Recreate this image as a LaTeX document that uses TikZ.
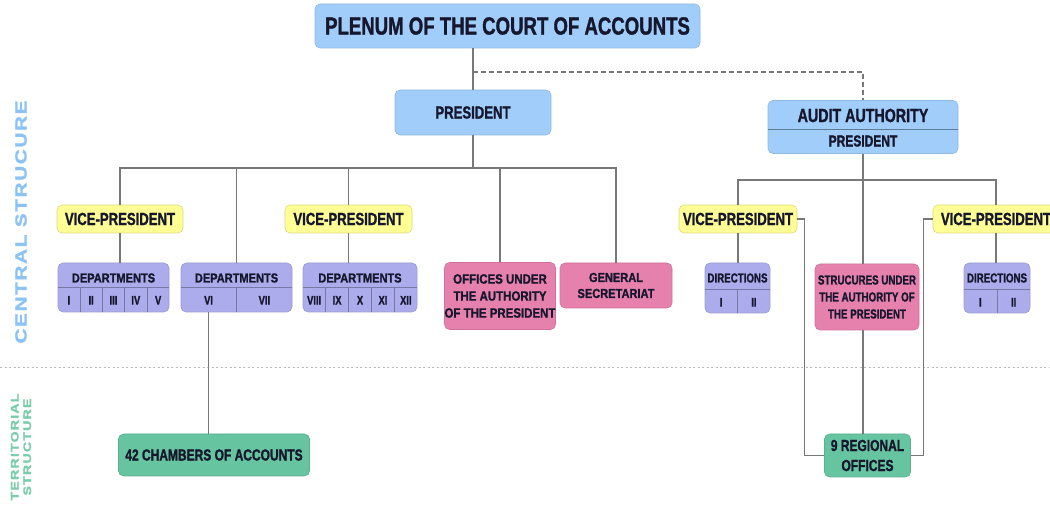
\documentclass[tikz,border=0pt]{standalone}
\usepackage{fontspec}
\newfontfamily\cond[FakeStretch=0.75,BoldFeatures={FakeBold=1.2}]{Liberation Sans}
\newfontfamily\semi[FakeStretch=0.85,BoldFeatures={FakeBold=1.2}]{Liberation Sans}
\newfontfamily\widefont[FakeStretch=1.3,LetterSpace=10,FakeBold=1.5]{Liberation Sans Bold}
\usetikzlibrary{calc}
\definecolor{cblue}{RGB}{160,205,250}
\definecolor{cyel}{RGB}{255,255,150}
\definecolor{cpur}{RGB}{172,172,236}
\definecolor{cpink}{RGB}{230,128,172}
\definecolor{cgreen}{RGB}{102,196,160}
\definecolor{txt}{RGB}{22,22,45}
\definecolor{conncol}{RGB}{120,120,120}
\definecolor{sideblue}{RGB}{140,195,245}
\definecolor{sidegreen}{RGB}{120,205,170}
\begin{document}
\begin{tikzpicture}[x=1pt,y=-1pt,
  box/.style={rounded corners=5pt, inner sep=0pt, line width=0.6pt, align=center, text=txt},
  bluebox/.style={box, fill=cblue, draw=cblue!90!black},
  yelbox/.style={box, fill=cyel, draw=cyel!85!black, minimum height=28,
     font=\cond\bfseries\fontsize{17.5}{19}\selectfont},
  purbox/.style={box, fill=cpur, draw=cpur!90!black},
  pinkbox/.style={box, fill=cpink, draw=cpink!90!black},
  greenbox/.style={box, fill=cgreen, draw=cgreen!90!black},
  lbl/.style={inner sep=0pt, text=txt, align=center},
  num/.style={lbl, font=\cond\bfseries\fontsize{12.5}{13}\selectfont},
  sep/.style={draw=cpur!70!black, line width=0.4pt},
  conn/.style={draw=conncol, line width=1.3pt},
  dconn/.style={conn, dash pattern=on 5pt off 3pt}
]
\useasboundingbox (0,0) rectangle (1050,510);
\clip (0,0) rectangle (1050,510);

% territorial separator
\draw[gray!55, line width=0.7pt, dash pattern=on 2pt off 2.5pt] (0,367) -- (1050,367);

% side labels
\node[rotate=90, inner sep=0pt, text=sideblue, font=\widefont\fontsize{16}{16}\selectfont] (cs) at (21,222) {CENTRAL STRUCURE};
\node[rotate=90, inner sep=0pt, align=center, text=sidegreen, font=\widefont\fontsize{11}{12.5}\selectfont] (ts) at (21,447) {TERRITORIAL\\STRUCTURE};

% coordinates for buses
\coordinate (dashY) at (0,72);
\coordinate (busL) at (0,168);
\coordinate (busR) at (0,180);

% top level
\node[bluebox, minimum width=385, minimum height=44, font=\cond\bfseries\fontsize{24.8}{26}\selectfont] (plen) at (507.5,26) {PLENUM OF THE COURT OF ACCOUNTS};
\node[bluebox, minimum width=156, minimum height=45, font=\cond\bfseries\fontsize{17.5}{19}\selectfont] (pres) at (473,112.5) {PRESIDENT};
\node[bluebox, minimum width=190, minimum height=53] (aa) at (863,127) {};
\draw[draw=cblue!60!black, line width=0.5pt] ([yshift=-2pt]aa.west) -- ([yshift=-2pt]aa.east);
\node[lbl, font=\cond\bfseries\fontsize{19}{20}\selectfont] (aat) at (863,115.5) {AUDIT AUTHORITY};
\node[lbl, font=\cond\bfseries\fontsize{16}{17}\selectfont] (aap) at (863,141) {PRESIDENT};

% vice presidents
\node[yelbox, minimum width=126] (vp1) at (120,219) {VICE-PRESIDENT};
\node[yelbox, minimum width=127] (vp2) at (348.5,219) {VICE-PRESIDENT};
\node[yelbox, minimum width=118] (vp3) at (738,219) {VICE-PRESIDENT};
\node[yelbox, minimum width=126] (vp4) at (996,219) {VICE-PRESIDENT};

% departments
\node[purbox, minimum width=111, minimum height=49] (d1) at (113.5,287.5) {};
\node[purbox, minimum width=111, minimum height=49] (d2) at (236.5,287.5) {};
\node[purbox, minimum width=114, minimum height=49] (d3) at (360,287.5) {};
\foreach \d in {d1,d2,d3}{
  \draw[sep] (\d.west) -- (\d.east);
  \node[lbl, font=\semi\bfseries\fontsize{13}{14}\selectfont] (\d t) at ([yshift=9.5pt]\d.center) {DEPARTMENTS};
}
\foreach \k in {1,...,4}{
  \draw[sep] ($(d1.south west)!\k/5!(d1.south east)$) -- ($(d1.west)!\k/5!(d1.east)$);
  \draw[sep] ($(d3.south west)!\k/5!(d3.south east)$) -- ($(d3.west)!\k/5!(d3.east)$);
}
\draw[sep] (d2.south) -- (d2.center);
\foreach \n [count=\k] in {I,II,III,IV,V}
  \node[num] (d1n\k) at ($(d1.south west)!{(\k-0.5)/5}!(d1.south east) + (0,-12)$) {\n};
\foreach \n [count=\k] in {VI,VII}
  \node[num] (d2n\k) at ($(d2.south west)!{(\k-0.5)/2}!(d2.south east) + (0,-12)$) {\n};
\foreach \n [count=\k] in {VIII,IX,X,XI,XII}
  \node[num] (d3n\k) at ($(d3.south west)!{(\k-0.5)/5}!(d3.south east) + (0,-12)$) {\n};

% directions
\node[purbox, minimum width=65, minimum height=50] (dir1) at (737.5,288) {};
\node[purbox, minimum width=66, minimum height=50] (dir2) at (997,288) {};
\foreach \d in {dir1,dir2}{
  \draw[sep] ([yshift=-1pt]\d.west) -- ([yshift=-1pt]\d.east);
  \draw[sep] (\d.south) -- ([yshift=-1pt]\d.center);
  \node[lbl, font=\cond\bfseries\fontsize{13}{14}\selectfont] (\d t) at ([yshift=10pt]\d.center) {DIRECTIONS};
  \node[num] (\d n1) at ($(\d.south west)!0.25!(\d.south east) + (0,-11)$) {I};
  \node[num] (\d n2) at ($(\d.south west)!0.75!(\d.south east) + (0,-11)$) {II};
}

% pink boxes
\node[pinkbox, minimum width=100, minimum height=67, font=\semi\bfseries\fontsize{13.5}{17}\selectfont] (off) at (500,296) {OFFICES UNDER\\THE AUTHORITY\\OF THE PRESIDENT};
\node[pinkbox, minimum width=112, minimum height=45, font=\semi\bfseries\fontsize{13}{16}\selectfont] (gs) at (616,285.5) {GENERAL\\SECRETARIAT};
\node[pinkbox, minimum width=104, minimum height=66, font=\cond\bfseries\fontsize{13}{17}\selectfont] (str) at (867,297) {STRUCURES UNDER\\THE AUTHORITY OF\\THE PRESIDENT};

% green boxes
\node[greenbox, minimum width=191, minimum height=42, font=\cond\bfseries\fontsize{16}{18}\selectfont] (ch) at (214,455) {42 CHAMBERS OF ACCOUNTS};
\node[greenbox, minimum width=86, minimum height=43, font=\cond\bfseries\fontsize{16}{20}\selectfont] (reg) at (867.5,455.5) {9 REGIONAL\\OFFICES};

% connectors
\draw[conn] (pres.north) -- (pres.north |- plen.south);
\draw[dconn] (pres.north |- dashY) -| (aa.north);
\draw[conn] (pres.south) -- (pres.south |- busL);
\draw[conn] (vp1.north) |- (pres.south |- busL) -| (gs.north);
\draw[conn] (d2.north) -- (d2.north |- busL);
\draw[conn] (vp2.north) -- (vp2.north |- busL);
\draw[conn] (off.north) -- (off.north |- busL);
\draw[conn] (vp1.south) -- (vp1.south |- d1.north);
\draw[conn] (vp2.south) -- (vp2.south |- d3.north);
\draw[conn] ([xshift=-28pt]d2.south) -- ([xshift=-28pt]d2.south |- ch.north);

\draw[conn] (aa.south) -- (aa.south |- str.north);
\draw[conn] (vp3.north) |- (aa.south |- busR) -| (vp4.north);
\draw[conn] (vp3.south) -- (vp3.south |- dir1.north);
\draw[conn] (vp4.south) -- (vp4.south |- dir2.north);
\draw[conn] (aa.south |- str.south) -- (aa.south |- reg.north);
\draw[conn] (vp3.east) -- ++(7,0) |- (reg.west);
\draw[conn] (vp4.west) -- ++(-9,0) |- (reg.east);
\end{tikzpicture}
\end{document}
